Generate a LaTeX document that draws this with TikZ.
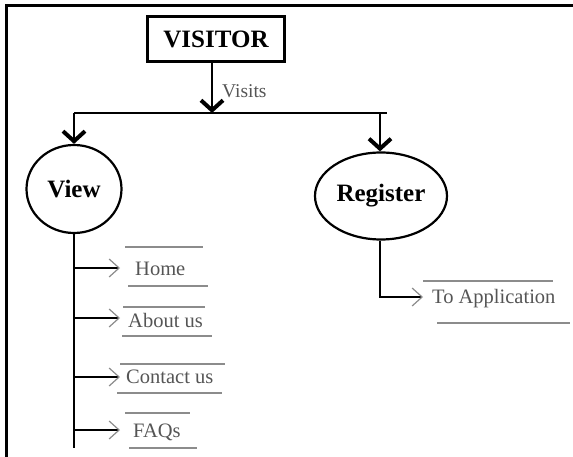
\documentclass[tikz,border=0pt]{standalone}
\usepackage{fontspec}
\setmainfont{Liberation Serif}
\usetikzlibrary{arrows.meta,shapes.geometric}
\definecolor{lblgray}{HTML}{555555}
\definecolor{rulegray}{HTML}{8C8C8C}
\begin{document}
\begin{tikzpicture}[x=1pt,y=-1pt,
  boldtxt/.style={font=\fontsize{25}{30}\selectfont\bfseries},
  lbl/.style={font=\fontsize{20.5}{24}\selectfont, text=lblgray, inner sep=0pt, anchor=base west},
  rulel/.style={draw=rulegray, line width=2pt},
  bigarrow/.style={line width=2.8pt, -{Straight Barb[length=10pt,width=22pt,line width=4pt]}},
  brancharrow/.style={line width=2.6pt, -{Straight Barb[length=10pt,width=18pt,line width=1.2pt,color=rulegray]}},
  trunkline/.style={line width=2.8pt}]
\useasboundingbox (0,0) rectangle (573,457);
% frame (top and left only)
\draw[line width=3pt] (6,457) -- (6,6) -- (573,6);

% nodes
\node[draw, line width=2.5pt, boldtxt, minimum width=137pt, minimum height=45pt, inner sep=0pt] (visitor) at (216,39) {VISITOR};
\node[draw, ellipse, line width=2.2pt, boldtxt, minimum width=95pt, minimum height=88pt, inner sep=0pt] (view) at (74,189) {View};
\node[draw, ellipse, line width=2.2pt, boldtxt, minimum width=132pt, minimum height=87pt, inner sep=0pt] (register) at (381,196) {Register};

% coordinates
\coordinate (j) at (212,113);
\coordinate (jl) at (74,113);
\coordinate (jr) at (380,113);
\coordinate (jre) at (387,113);
\coordinate (vend) at (74,448);
\coordinate (ha) at (120,268);
\coordinate (aa) at (120,318);
\coordinate (ca) at (120,377);
\coordinate (fa) at (120,430);
\coordinate (ra) at (423,297);

% top connectors
\draw[bigarrow] (visitor.south -| j) -- (j);
\node[font=\fontsize{19.5}{22}\selectfont, text=lblgray, inner sep=0pt, anchor=base west] (visits) at (222,98) {Visits};
\draw[trunkline] (jl) -- (jre);
\draw[bigarrow] (jl) -- (view.north);
\draw[bigarrow] (jr) -- (jr |- register.north);

% view trunk
\draw[trunkline] (view.south) -- (vend);
\draw[brancharrow] (vend |- ha) -- (ha);
\draw[brancharrow] (vend |- aa) -- (aa);
\draw[brancharrow] (vend |- ca) -- (ca);
\draw[brancharrow] (vend |- fa) -- (fa);

% register branch
\draw[brancharrow] (jr |- register.south) |- (ra);

% labels
\node[lbl] (home) at (135,275) {Home};
\node[lbl] (about) at (128,327) {About us};
\node[lbl] (contact) at (126,383) {Contact us};
\node[lbl] (faqs) at (133,437) {FAQs};
\node[lbl] (toapp) at (432,303) {To Application};

% over/under rules
\draw[rulel] (125,247) -- (203,247);
\draw[rulel] (128,286) -- (208,286);
\draw[rulel] (123,307) -- (205,307);
\draw[rulel] (122,336) -- (212,336);
\draw[rulel] (120,364) -- (225,364);
\draw[rulel] (117,393) -- (222,393);
\draw[rulel] (125,413) -- (190,413);
\draw[rulel] (129,448) -- (197,448);
\draw[rulel] (423,281) -- (553,281);
\draw[rulel] (437,323) -- (570,323);
\end{tikzpicture}
\end{document}
